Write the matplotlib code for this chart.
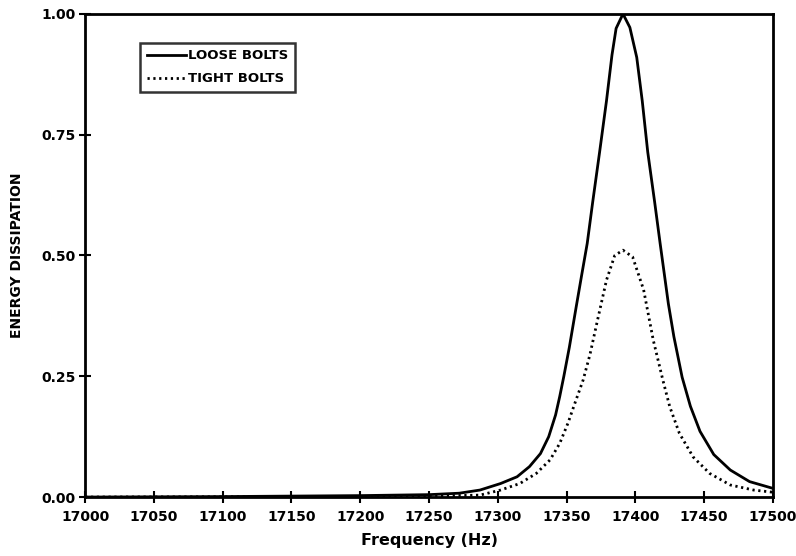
import matplotlib
matplotlib.use("Agg")
import matplotlib.pyplot as plt

# Frequency (Hz) / normalised energy dissipation
loose_freq = [17000, 17100, 17200, 17250, 17272, 17287, 17302, 17314, 17323, 17331,
              17337, 17342, 17345, 17348, 17352, 17357, 17361, 17365, 17369, 17374,
              17379, 17383, 17386, 17391, 17396, 17401, 17405, 17409, 17414, 17418,
              17424, 17428, 17434, 17440, 17447, 17457, 17469, 17483, 17500]
loose_vals = [0.0, 0.001, 0.003, 0.005, 0.008, 0.0145, 0.028, 0.042, 0.063, 0.090,
              0.125, 0.170, 0.208, 0.250, 0.310, 0.394, 0.460, 0.525, 0.611, 0.714,
              0.820, 0.915, 0.970, 1.0, 0.972, 0.910, 0.820, 0.714, 0.611, 0.525,
              0.400, 0.332, 0.248, 0.188, 0.136, 0.088, 0.056, 0.032, 0.018]

tight_freq = [17000, 17100, 17200, 17250, 17287, 17302, 17316, 17328, 17338, 17345,
              17351, 17356, 17362, 17367, 17372, 17379, 17385, 17391, 17398, 17406,
              17413, 17420, 17425, 17432, 17442, 17454, 17469, 17486, 17500]
tight_vals = [0.0, 0.0005, 0.001, 0.002, 0.004, 0.0145, 0.028, 0.049, 0.077, 0.111,
              0.153, 0.194, 0.242, 0.295, 0.360, 0.449, 0.500, 0.511, 0.497, 0.429,
              0.325, 0.242, 0.187, 0.132, 0.083, 0.049, 0.025, 0.0145, 0.010]

x_ticks = list(range(17000, 17501, 50))
y_ticks = [0.0, 0.25, 0.5, 0.75, 1.0]

plt.rcParams["font.family"] = ["DejaVu Sans"]
plt.rcParams["font.weight"] = "bold"

fig = plt.figure(figsize=(7.96, 5.56), dpi=100)
ax = fig.add_axes([0.107, 0.106, 0.864, 0.869])

ax.plot(loose_freq, loose_vals, color="black", lw=2.0, label="LOOSE BOLTS")
ax.plot(tight_freq, tight_vals, color="black", lw=2.0, ls=(0, (0.8, 1.3)),
        label="TIGHT BOLTS")

ax.set_xlim(17000, 17500)
ax.set_ylim(0, 1.0)
ax.set_xticks(x_ticks)
ax.set_yticks(y_ticks)
ax.set_yticklabels([f"{v:.2f}" for v in y_ticks])

for s in ax.spines.values():
    s.set_linewidth(2)
    s.set_color("black")

ax.tick_params(axis="both", direction="inout", length=8, width=1.5,
               labelsize=10, top=False, right=False)
ax.tick_params(axis="x", pad=5)
ax.tick_params(axis="y", pad=3)

ax.set_xlabel("Frequency (Hz)", fontsize=11.5, fontweight="bold", labelpad=7)
ax.set_ylabel("ENERGY DISSIPATION", fontsize=10, fontweight="bold", labelpad=12)

leg = ax.legend(loc="upper left", bbox_to_anchor=(0.08, 0.94), fontsize=9.5,
                handlelength=3.0, handletextpad=0.1, frameon=True, fancybox=False,
                borderpad=0.5, labelspacing=0.75, borderaxespad=0)
leg.get_frame().set_edgecolor("black")
leg.get_frame().set_linewidth(1.8)

fig.savefig("out.png", dpi=100)
